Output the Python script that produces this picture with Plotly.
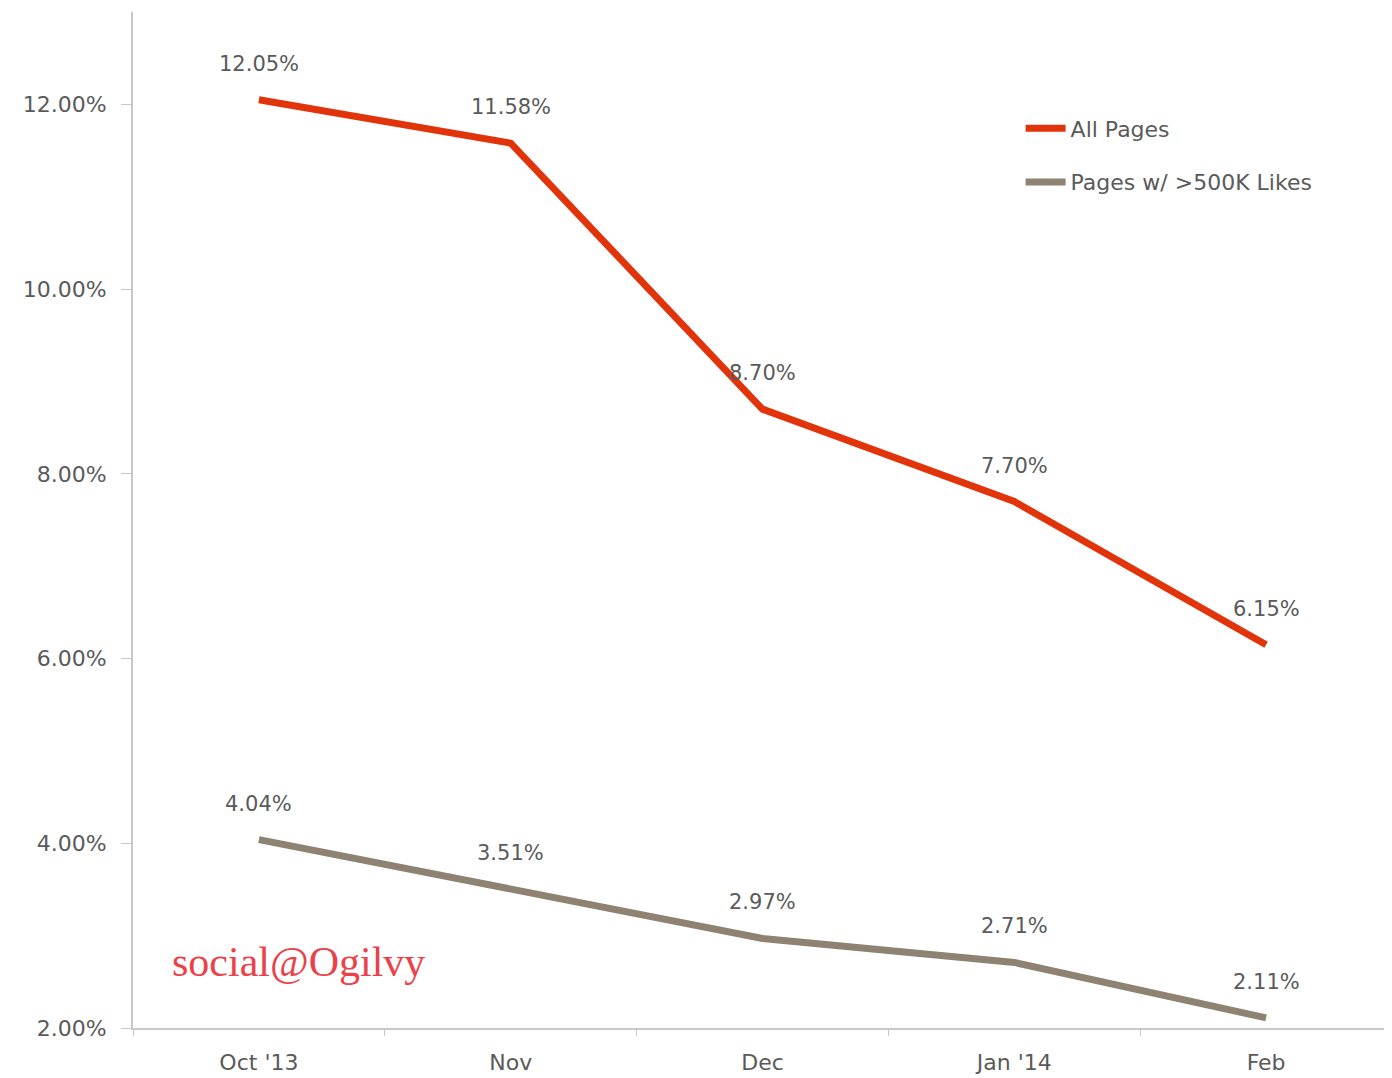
import plotly.graph_objects as go

months = ["Oct '13", "Nov", "Dec", "Jan '14", "Feb"]
all_pages = [12.05, 11.58, 8.70, 7.70, 6.15]
big_pages = [4.04, 3.51, 2.97, 2.71, 2.11]
series_names = ["All Pages", "Pages w/ >500K Likes"]
y_ticks = [2, 4, 6, 8, 10, 12]
y_tick_text = [f"{v:.2f}%" for v in y_ticks]

red = "#E2340B"
taupe = "#8E8273"
FONT = "DejaVu Sans, Verdana, sans-serif"
label_font = dict(family=FONT, size=21, color="#5A5A5A")

fig = go.Figure()
fig.add_trace(go.Scatter(x=months, y=all_pages, mode="lines", name=series_names[0],
                         line=dict(color=red, width=7), legendgroup="a"))
fig.add_trace(go.Scatter(x=months, y=big_pages, mode="lines", name=series_names[1],
                         line=dict(color=taupe, width=7), legendgroup="b"))

for series in (all_pages, big_pages):
    for m, v in zip(months, series):
        fig.add_annotation(x=m, y=v, text=f"{v:.2f}%", showarrow=False,
                           yshift=36, font=label_font)

fig.add_annotation(xref="paper", yref="paper", x=0.029, y=0.065, xanchor="left", yanchor="middle",
                   text="social@Ogilvy", showarrow=False,
                   font=dict(family="Liberation Serif, Times New Roman, serif", size=42, color="#EC4148"))

fig.update_layout(
    width=1384, height=1070,
    margin=dict(l=125, r=0, t=4, b=50, autoexpand=False),
    plot_bgcolor="white", paper_bgcolor="white",
    showlegend=True,
    legend=dict(x=0.705, y=0.906, xanchor="left", yanchor="top",
                font=dict(family=FONT, size=22, color="#5A5A5A"),
                tracegroupgap=22, traceorder="grouped", itemwidth=40,
                bgcolor="rgba(0,0,0,0)"),
    xaxis=dict(type="category", range=[-0.5, 4.5], showline=True, linecolor="#C8C8C8", linewidth=2,
               ticks="outside", tickson="boundaries", ticklen=6, tickcolor="#C8C8C8",
               showgrid=False, zeroline=False, ticklabelstandoff=14, automargin=False,
               tickfont=dict(family=FONT, size=22, color="#5A5A5A")),
    yaxis=dict(range=[2, 13], tickvals=y_ticks, ticktext=y_tick_text,
               showline=True, linecolor="#C8C8C8", linewidth=2, ticks="outside", ticklen=10,
               tickcolor="#C8C8C8", showgrid=False, zeroline=False, ticklabelstandoff=10,
               automargin=False,
               tickfont=dict(family=FONT, size=22, color="#5A5A5A")),
)

fig.write_html("out.html")
